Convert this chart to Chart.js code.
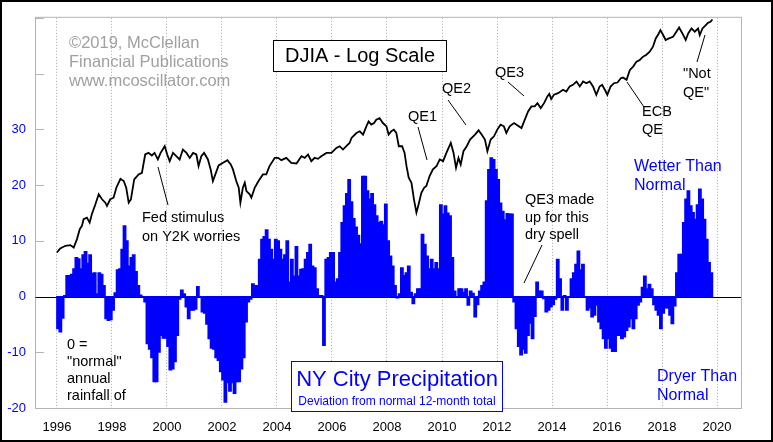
<!DOCTYPE html>
<html>
<head>
<meta charset="utf-8">
<script src="https://cdn.jsdelivr.net/npm/chart.js@4.4.0/dist/chart.umd.min.js"></script>
<style>
  html, body { margin: 0; padding: 0; background: #fff; }
</style>
</head>
<body>
<canvas id="chart" width="773" height="442"></canvas>
<script>
// x axis labels (years) and the left scale
const tickYears = [1996, 1998, 2000, 2002, 2004, 2006, 2008, 2010, 2012, 2014, 2016, 2018, 2020];
const rainTicks = [-20, -10, 0, 10, 20, 30];

// NY City precipitation, deviation from normal 12-month total (inches), monthly from Jan 1996
const rainStart = 1996;
const rainDeviation = [
  -5.8, -6.4, -3.9, 0.2, 3.8, 3.8, 4.0, 5.0, 7.0, 6.8, 5.0, 7.5,          // 1996
  8.1, 6.0, 7.5, 4.2, 4.3, 0.5, 4.3, 4.0, 2.0, -4.0, -4.3, -4.2,          // 1997
  -2.5, 0.7, 4.8, 5.0, 8.5, 12.7, 10.0, 5.5, 7.0, 7.5, 4.5, 2.0,          // 1998
  0.3, -0.2, -1.0, -8.5, -9.5, -11, -15.3, -15.3, -10, -7, -7.5, -7.5,    // 1999
  -9, -13.2, -13, -11.7, -7, -0.5, 1.2, 0.5, -1.9, -4, -2.5, -2.5,        // 2000
  -2.3, 1.8, 0, -2.8, -3, -5, -7.6, -9.3, -9.5, -11, -11.5, -13.5,        // 2001
  -15, -19, -15.5, -17, -15.5, -17.4, -15.3, -15.3, -13, -11, -4.6, -1,   // 2002
  -0.5, 2.3, 2, 2, 6.7, 10.3, 10.8, 12, 10.3, 8.5, 6.7, 10.3,             // 2003
  10, 8.5, 6.7, 7.5, 10, 2.6, 6.7, 3.7, 9, 3.7, 4.9, 5,                   // 2004
  6.7, 7.9, 9.4, 5.5, 5.2, 1.4, 0.2, 0.2, -8.8, 6.7, 7, 7.9,              // 2005
  7.9, 2.6, 3.2, 7.9, 13.3, 16.3, 18.5, 21, 17, 14, 12.5, 11,             // 2006
  9.5, 21.6, 21.6, 19, 17.5, 18.5, 16.5, 14.5, 13.3, 13.5, 12.9, 16.6,    // 2007
  10, 7.3, 5.5, 2, -0.3, 0.5, 5.2, 3.8, 4.3, 5.5, 0.8, -1.3,              // 2008
  0.5, 1.4, 1.4, 11.2, 9.4, 7.3, 5, 6.7, 5, 6.1, 5, 16.5,                 // 2009
  14.8, 16.3, 15, 14.5, 7, 1, 0, 1.4, 1.4, 0.8, 1.4, -1.6,                // 2010
  1, 0.6, -3.7, -1.5, 1, 2, 2.6, 17.2, 22.8, 24.9, 24.6, 22.8,            // 2011
  21, 16.8, 15.3, 13.8, 14.9, 14.8, 14.8, -1, -5.8, -9, -10.5, -9.5,      // 2012
  -10.2, -7, -4.8, -7.6, -3.6, 2.6, 1, 1, -0.4, -2.8, -2.5, -1.9,         // 2013
  -1.5, -0.5, 6.7, 3.2, -2.5, 0.2, -2.5, 0, 3.2, 4.3, 5.8, 8.2,           // 2014
  4.8, 5.8, 0, -2.5, -2.1, -3.7, -3.4, -1.6, -4.6, -5.8, -7.6, -9.3,      // 2015
  -7.6, -9.3, -9.9, -9.9, -7, -7, -7.6, -7.3, -6.1, -5.5, -4, -5.8,       // 2016
  -4, -1.6, -1, 1.7, 3.7, 1.4, 2.2, 1.4, -1.5, -2.5, -3.4, -5.8,          // 2017
  -3, -2.1, -2.1, -3.4, -4.9, -1.7, 4.3, 7.6, 7.6, 13.3, 17.5, 19,        // 2018
  16.3, 15.1, 13.9, 16.5, 19.3, 17.5, 13.9, 10.3, 6.1, 4.3                // 2019
];

// DJIA (log scale), dates as decimal years
const djiaDates = [
  1996.00, 1996.12, 1996.31, 1996.49, 1996.61, 1996.73, 1996.83, 1996.91, 1996.97, 1997.09,
  1997.19, 1997.27, 1997.40, 1997.52, 1997.64, 1997.76, 1997.82, 1997.94, 1998.06, 1998.16,
  1998.31, 1998.43, 1998.52, 1998.61, 1998.69, 1998.81, 1998.97, 1999.09, 1999.21, 1999.33,
  1999.45, 1999.55, 1999.67, 1999.77, 1999.92, 2000.01, 2000.10, 2000.22, 2000.34, 2000.46,
  2000.58, 2000.71, 2000.83, 2000.95, 2001.07, 2001.15, 2001.25, 2001.35, 2001.49, 2001.59,
  2001.67, 2001.76, 2001.88, 2002.04, 2002.20, 2002.32, 2002.40, 2002.52, 2002.61, 2002.67,
  2002.76, 2002.83, 2002.89, 2003.01, 2003.07, 2003.19, 2003.33, 2003.49, 2003.61, 2003.73,
  2003.92, 2004.04, 2004.16, 2004.34, 2004.52, 2004.71, 2004.89, 2005.01, 2005.13, 2005.25,
  2005.37, 2005.49, 2005.61, 2005.80, 2005.98, 2006.16, 2006.28, 2006.40, 2006.52, 2006.64,
  2006.71, 2006.89, 2007.01, 2007.13, 2007.25, 2007.33, 2007.43, 2007.53, 2007.61, 2007.73,
  2007.85, 2007.98, 2008.06, 2008.16, 2008.25, 2008.34, 2008.43, 2008.55, 2008.64, 2008.71,
  2008.79, 2008.89, 2008.98, 2009.07, 2009.15, 2009.25, 2009.35, 2009.43, 2009.55, 2009.67,
  2009.80, 2009.92, 2010.04, 2010.16, 2010.32, 2010.42, 2010.51, 2010.60, 2010.68, 2010.78,
  2010.90, 2011.02, 2011.20, 2011.33, 2011.44, 2011.56, 2011.65, 2011.77, 2011.89, 2012.01,
  2012.13, 2012.25, 2012.34, 2012.46, 2012.62, 2012.71, 2012.89, 2013.01, 2013.13, 2013.25,
  2013.37, 2013.47, 2013.59, 2013.71, 2013.83, 2013.90, 2013.97, 2014.07, 2014.22, 2014.40,
  2014.52, 2014.64, 2014.76, 2014.89, 2015.01, 2015.13, 2015.25, 2015.37, 2015.49, 2015.61,
  2015.73, 2015.82, 2015.92, 2016.01, 2016.13, 2016.25, 2016.38, 2016.50, 2016.58, 2016.71,
  2016.83, 2016.95, 2017.07, 2017.19, 2017.31, 2017.43, 2017.55, 2017.67, 2017.77, 2017.85,
  2017.94, 2018.04, 2018.13, 2018.25, 2018.40, 2018.52, 2018.62, 2018.74, 2018.86, 2018.95,
  2019.07, 2019.19, 2019.31, 2019.37, 2019.47, 2019.59, 2019.67, 2019.76, 2019.83
];
const djiaValues = [
  5110, 5262, 5367, 5394, 5300, 5635, 6060, 6208, 6517, 6593,
  6358, 6759, 7269, 7818, 7538, 7354, 7180, 7538, 7626, 8202,
  8758, 8613, 8202, 7354, 7538, 8720, 9043, 9149, 10460, 10582,
  10384, 10582, 10086, 10582, 11111, 10460, 9962, 10582, 10331, 10086,
  10847, 10582, 10204, 10582, 10460, 9606, 10331, 10582, 10086, 9378,
  8613, 9043, 9656, 9840, 10035, 9726, 9378, 8613, 8202, 7354,
  8202, 8507, 8008, 7818, 7626, 8202, 8613, 9043, 9043, 9606,
  10204, 10204, 10035, 10204, 9840, 9797, 10331, 10204, 10460, 9962,
  10204, 10130, 10331, 10582, 10582, 10974, 11111, 10847, 11111, 11380,
  11802, 12240, 12393, 12098, 12852, 13328, 13011, 13164, 13494, 13651,
  13164, 12852, 12098, 12393, 12546, 12240, 11111, 11111, 10582, 9606,
  8822, 8507, 7538, 6838, 7269, 7908, 8202, 8304, 8932, 9378,
  9606, 10086, 9962, 10582, 11380, 10582, 9488, 10204, 9726, 10714,
  11111, 11666, 12098, 12483, 12098, 11666, 10714, 11666, 11949, 12546,
  13011, 12852, 12240, 12852, 13164, 13011, 12693, 13494, 14335, 14866,
  14866, 15226, 14682, 15226, 15988, 16300, 15700, 16187, 16376, 16786,
  16580, 17195, 17407, 17831, 17195, 17831, 17612, 17831, 17195, 16187,
  17195, 17407, 16786, 16187, 17195, 17612, 17702, 18264, 18360, 18053,
  19416, 19888, 20625, 20881, 21390, 21702, 22181, 23003, 24435, 25049,
  25975, 25049, 24153, 24435, 24741, 25657, 26473, 25340, 24153, 25340,
  26279, 25657, 26279, 25049, 26279, 26937, 27392, 27590, 28058
];

const FONT = '"Liberation Sans", Arial, sans-serif';
Chart.defaults.font.family = FONT;

// text notes placed on the picture
const notes = [
  { lines: ['\u00a92019, McClellan', 'Financial Publications', 'www.mcoscillator.com'], x: 69, y: 43, gap: 19, size: 16.5, color: '#a0a0a0' },
  { lines: ['QE1'], x: 408, y: 117, size: 14.5 },
  { lines: ['QE2'], x: 442, y: 89, size: 14.5 },
  { lines: ['QE3'], x: 495, y: 73, size: 14.5 },
  { lines: ['ECB', 'QE'], x: 642, y: 112, gap: 18, size: 14.5 },
  { lines: ['"Not', 'QE"'], x: 683, y: 74, gap: 19, size: 14.5 },
  { lines: ['Fed stimulus', 'on Y2K worries'], x: 142, y: 218, gap: 19, size: 14.5 },
  { lines: ['QE3 made', 'up for this', 'dry spell'], x: 525, y: 200, gap: 17.5, size: 14.5 },
  { lines: ['0 =', '"normal"', 'annual', 'rainfall of'], x: 67, y: 345, gap: 17, size: 14.5 },
  { lines: ['Wetter Than', 'Normal'], x: 634, y: 167, gap: 19, size: 16, color: '#0000ff' },
  { lines: ['Dryer Than', 'Normal'], x: 657, y: 377, gap: 19, size: 16, color: '#0000ff' }
];
const pointers = [
  [158, 167, 168, 205],
  [418, 127, 427, 160],
  [448, 100, 466, 125],
  [508, 82, 524, 96],
  [542, 245, 524, 283],
  [627, 82, 644, 107],
  [705, 35, 697, 62]
];

const decor = {
  id: 'decor',
  beforeDraw(chart) {
    const ctx = chart.ctx;
    ctx.save();
    ctx.fillStyle = '#fff';
    ctx.fillRect(0, 0, chart.width, chart.height);
    ctx.restore();
  },
  beforeDatasetsDraw(chart) {
    const { ctx, chartArea: a, scales: { y } } = chart;
    ctx.save();
    ctx.strokeStyle = '#b4b4b4';
    ctx.lineWidth = 1;
    ctx.strokeRect(a.left - 0.5, a.top - 0.5, a.right - a.left + 1, a.bottom - a.top + 1);
    // short ticks on the inside of the left axis
    y.ticks.forEach(t => {
      const py = Math.round(y.getPixelForValue(t.value)) + 0.5;
      ctx.beginPath();
      ctx.moveTo(a.left, py);
      ctx.lineTo(a.left + 8, py);
      ctx.stroke();
    });
    ctx.restore();
  },
  afterDatasetsDraw(chart) {
    const { ctx, chartArea: a, scales: { y } } = chart;
    ctx.save();
    // zero line
    const zy = Math.round(y.getPixelForValue(0)) + 0.5;
    ctx.strokeStyle = '#000';
    ctx.lineWidth = 1;
    ctx.beginPath();
    ctx.moveTo(a.left - 0.5, zy);
    ctx.lineTo(a.right, zy);
    ctx.stroke();

    // pointer lines
    pointers.forEach(p => {
      ctx.beginPath();
      ctx.moveTo(p[0], p[1]);
      ctx.lineTo(p[2], p[3]);
      ctx.stroke();
    });

    // notes
    ctx.textBaseline = 'middle';
    ctx.textAlign = 'left';
    notes.forEach(n => {
      ctx.font = n.size + 'px ' + FONT;
      ctx.fillStyle = n.color || '#000';
      n.lines.forEach((s, i) => ctx.fillText(s, n.x, n.y + i * (n.gap || 0)));
    });

    // DJIA title box
    ctx.fillStyle = '#fff';
    ctx.fillRect(273, 40, 174, 32);
    ctx.strokeStyle = '#000';
    ctx.strokeRect(273.5, 40.5, 173, 31);
    ctx.fillStyle = '#000';
    ctx.textAlign = 'center';
    ctx.font = '20px ' + FONT;
    ctx.fillText('DJIA - Log Scale', 360, 56.5);

    // precipitation title box
    ctx.fillStyle = '#fff';
    ctx.fillRect(291, 361, 212, 51);
    ctx.strokeStyle = '#0000ff';
    ctx.strokeRect(291.5, 361.5, 211, 50);
    ctx.fillStyle = '#0000ff';
    ctx.font = '22px ' + FONT;
    ctx.fillText('NY City Precipitation', 397, 380);
    ctx.font = '12px ' + FONT;
    ctx.fillText('Deviation from normal 12-month total', 397, 402);

    // outer frame
    ctx.strokeStyle = '#000';
    ctx.lineWidth = 2;
    ctx.strokeRect(1, 1, chart.width - 2, chart.height - 2);
    ctx.restore();
  }
};

new Chart(document.querySelector('#chart'), {
  type: 'bar',
  data: {
    datasets: [{
      type: 'line',
      label: 'DJIA',
      yAxisID: 'y2',
      data: djiaDates.map((d, i) => ({ x: d, y: djiaValues[i] })),
      borderColor: '#000',
      borderWidth: 1.8,
      pointRadius: 0,
      tension: 0,
      order: 0
    }, {
      type: 'bar',
      label: 'NY City Precipitation',
      yAxisID: 'y',
      data: rainDeviation.map((v, i) => ({ x: rainStart + (i + 0.5) / 12, y: v })),
      backgroundColor: '#0000ff',
      borderWidth: 0,
      barThickness: 3,
      inflateAmount: 0.4,
      order: 1
    }]
  },
  options: {
    responsive: false,
    animation: false,
    layout: { padding: { top: 16, right: 32, left: 0, bottom: 0 } },
    plugins: { legend: { display: false }, tooltip: { enabled: false } },
    scales: {
      x: {
        type: 'linear',
        offset: false,
        min: 1995.24,
        max: 2020.87,
        afterBuildTicks: s => { s.ticks = tickYears.map(v => ({ value: v })); },
        afterFit: s => { s.height = 34; },
        ticks: { color: '#000', font: { size: 13 }, padding: 12, callback: v => String(v), maxRotation: 0, autoSkip: false },
        grid: { color: '#a8a8a8', lineWidth: 1, drawTicks: false, offset: false },
        border: { display: false, dash: [1, 2] }
      },
      y: {
        type: 'linear',
        min: -20,
        max: 50,
        afterBuildTicks: s => { s.ticks = [-20, -10, 0, 10, 20, 30, 40, 50].map(v => ({ value: v })); },
        afterFit: s => { s.width = 36; },
        ticks: { color: '#0000ff', font: { size: 13 }, padding: 10, callback: v => rainTicks.includes(v) ? String(v) : '' },
        grid: { display: false, drawTicks: false },
        border: { display: false }
      },
      y2: {
        type: 'logarithmic',
        display: false,
        min: 1639,
        max: 28414
      }
    }
  },
  plugins: [decor]
});
</script>
</body>
</html>
